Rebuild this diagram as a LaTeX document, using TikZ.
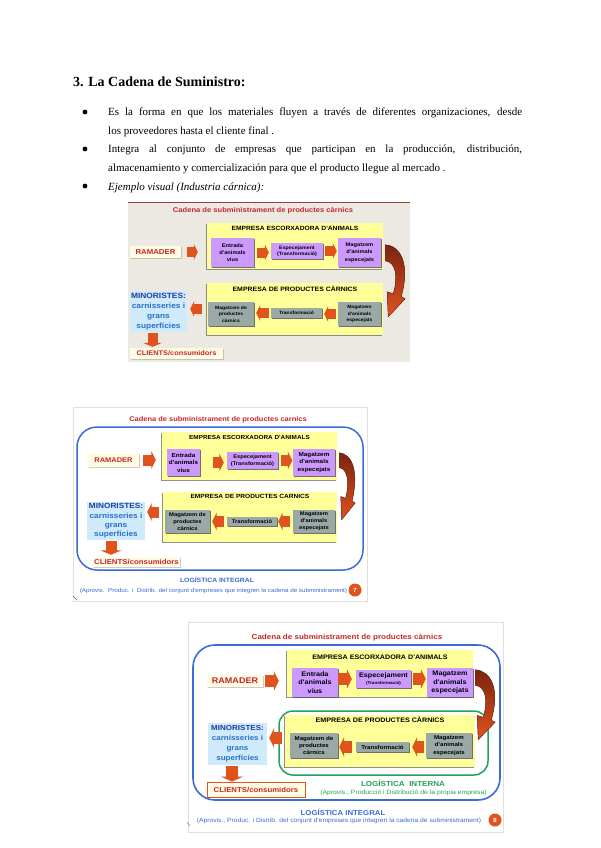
\documentclass[tikz,border=0pt]{standalone}
\usepackage{fontspec}
\setmainfont{Liberation Serif}
\newfontfamily\diagfont[FakeStretch=1.1]{Liberation Sans}
\usetikzlibrary{arrows.meta,shadows}

\definecolor{colGroc}{HTML}{FFFF99}
\definecolor{colLila}{HTML}{CC99FF}
\definecolor{colGris}{HTML}{9AA8A6}
\definecolor{colCel}{HTML}{CFEBFB}
\definecolor{colCrema}{HTML}{FFFCE3}
\definecolor{colFons}{HTML}{ECE9E3}
\definecolor{colVerm}{HTML}{C4262A}
\definecolor{colFletxa}{HTML}{E0531D}
\definecolor{colFosc}{HTML}{7A2410}
\definecolor{colBlau}{HTML}{3A6BD6}
\definecolor{colBlauF}{HTML}{1D3F9E}
\definecolor{colBlauC}{HTML}{2A6FC9}
\definecolor{colVerd}{HTML}{23A35A}

\newcommand{\fz}[2]{\fontsize{#1}{#2}\selectfont}

\tikzset{
  caixa/.style={rectangle, inner sep=0pt, align=center, font=\diagfont\bfseries},
  ombra/.style={drop shadow={shadow xshift=1pt, shadow yshift=-1pt, opacity=0.85, fill=black!65}},
  lletra/.style={font=\diagfont\bfseries\fz{5.2}{7.3}},
  lletrag/.style={font=\diagfont\bfseries\fz{4.6}{6.5}},
  groc/.style={caixa, fill=colGroc, drop shadow={shadow xshift=-0.8pt, shadow yshift=-0.8pt, opacity=0.8, fill=black!55}},
  lila/.style={caixa, ombra, fill=colLila, lletra},
  gris/.style={caixa, ombra, fill=colGris, lletrag},
  crema/.style={caixa, fill=colCrema, drop shadow={shadow xshift=1pt, shadow yshift=-1pt, opacity=0.5, fill=black!40}},
  celeste/.style={caixa, fill=colCel, text=colBlauC},
  titv/.style={font=\diagfont\bfseries, text=colVerm},
  fl/.style={draw=colFletxa, line width=10pt, -{Triangle[width=16pt,length=4pt]}},
  cos/.style={anchor=base west, text width=414pt, align=justify, font=\fz{11}{18.5}},
  corba/.pic={
    \filldraw[draw=colFosc, line width=0.4pt, top color=colFosc, bottom color=colFletxa]
      (0,0) .. controls (16,1) and (25,20) .. (16,52) -- (20,54) -- (3,72) -- (2,47) -- (8,49)
      .. controls (13,33) and (11,17) .. (0,16) -- cycle;
  }
}

\begin{document}
\begin{tikzpicture}[x=1pt, y=-1pt, every node/.style={inner sep=0pt}]
\useasboundingbox (0,0) rectangle (600,848);
\fill[white] (0,0) rectangle (600,848);

% === Title and bullets ===
\node[anchor=base west, font=\fz{14}{16}\bfseries] (capcal) at (73,87) {3. La Cadena de Suministro:};
\node[cos] (p1) at (108,116) {Es la forma en que los materiales fluyen a través de diferentes organizaciones, desde\linebreak los proveedores hasta el cliente final .};
\node[cos] (p2) at (108,153) {Integra al conjunto de empresas que participan en la producción, distribución,\linebreak almacenamiento y comercialización para que el producto llegue al mercado .};
\node[anchor=base west, font=\fz{11}{18.5}\itshape] (p3) at (108,190) {Ejemplo visual (Industria cárnica):};
\foreach \y in {112,149,186}
  \fill (85,\y) circle (2.4pt);

% === Picture 1 ===
\begin{scope}[lletra/.style={font=\diagfont\bfseries\fz{5.2}{7.3}}, lletrag/.style={font=\diagfont\bfseries\fz{4.6}{6.5}}]
\fill[colFons] (128,202) rectangle (410,362);
\draw[colFosc!85, line width=1.2pt] (128,202.6) -- (410,202.6);
\node[titv, font=\diagfont\bfseries\fz{6.9}{8}] (tit1) at (263,211) {Cadena de subministrament de productes càrnics};

\node[groc, minimum width=176pt, minimum height=46pt] (esc1) at (295,246) {};
\node[font=\diagfont\bfseries\fz{6.1}{7}] (tesc1) at ([yshift=-6pt]esc1.north) {EMPRESA ESCORXADORA D'ANIMALS};
\node[lila, minimum width=43pt, minimum height=29pt] (ent1) at (232.5,252.5) {Entrada\\d'animals\\vius};
\node[lila, minimum width=52pt, minimum height=16pt, font=\diagfont\bfseries\fz{4.8}{6}] (esp1) at (297,251) {Especejament\\(Transformació)};
\node[lila, minimum width=43pt, minimum height=29pt] (mag1) at (359.5,252.5) {Magatzem\\d'animals\\especejats};

\node[crema, minimum width=51pt, minimum height=12pt, text=colVerm, font=\diagfont\bfseries\fz{7.1}{8}] (ram1) at (155.5,252) {RAMADER};

\node[groc, minimum width=176pt, minimum height=52pt] (crn1) at (295,309) {};
\node[font=\diagfont\bfseries\fz{6.3}{7}] (tcrn1) at ([yshift=-6pt]crn1.north) {EMPRESA DE PRODUCTES CÀRNICS};
\node[gris, minimum width=46pt, minimum height=24pt] (mgp1) at (231,314) {Magatzem de\\productes\\càrnics};
\node[gris, minimum width=51pt, minimum height=10pt] (tra1) at (296.5,313) {Transformació};
\node[gris, minimum width=43pt, minimum height=24pt] (mga1) at (359.5,314) {Magatzem\\d'animals\\especejats};

\node[celeste, minimum width=57pt, minimum height=41pt, font=\diagfont\bfseries\fz{7.6}{10}] (min1) at (158.5,311.5) {\textcolor{colBlauF}{MINORISTES:}\\carnisseries i\\grans\\superfícies};
\node[crema, minimum width=93pt, minimum height=11pt, text=colVerm, font=\diagfont\bfseries\fz{6.7}{7}] (cli1) at (176.5,353.5) {CLIENTS/consumidors};

\draw[fl, shorten <=6pt, shorten >=9pt] (ram1.east) -- (ram1.east -| esc1.west);
\draw[fl, shorten <=3pt, shorten >=2pt] (ent1.east) -- (ent1.east -| esp1.west);
\draw[fl, shorten <=2pt, shorten >=1pt] (esp1.east) -- (esp1.east -| mag1.west);
\draw[fl, shorten <=2pt, shorten >=2pt] (mga1.west) -- (mga1.west -| tra1.east);
\draw[fl, shorten <=2pt, shorten >=2pt] (tra1.west) -- (tra1.west -| mgp1.east);
\draw[fl, shorten <=5pt, shorten >=3pt] (crn1.west) -- (crn1.west -| min1.east);
\draw[fl, -{Triangle[width=19pt,length=4pt]}, shorten <=1pt, shorten >=1pt] ([xshift=-6pt]min1.south) -- ([xshift=-24pt]cli1.north);
\pic at ([shift={(4,7)}]mag1.north east) {corba};
\end{scope}

% === Picture 2 ===
\begin{scope}[lletra/.style={font=\diagfont\bfseries\fz{5.8}{7.5}}, lletrag/.style={font=\diagfont\bfseries\fz{5.3}{6.8}},
  fl/.append style={line width=11pt, -{Triangle[width=18pt,length=4.5pt]}}]
\draw[black!12] (73,407) rectangle (367,601);
\draw[black!60] (73,596) -- (77,600);
\node[titv, font=\diagfont\bfseries\fz{6.8}{8}] (tit2) at (218,420) {Cadena de subministrament de productes carnics};
\draw[colBlau, line width=1.5pt, rounded corners=20pt] (77,427) rectangle (363,570);

\node[groc, minimum width=175pt, minimum height=48pt] (esc2) at (249.5,456) {};
\node[font=\diagfont\bfseries\fz{5.8}{7}] (tesc2) at ([yshift=-6pt]esc2.north) {EMPRESA ESCORXADORA D'ANIMALS};
\node[lila, minimum width=33pt, minimum height=27pt] (ent2) at (183.5,462.5) {Entrada\\d'animals\\vius};
\node[lila, minimum width=51pt, minimum height=17pt, font=\diagfont\bfseries\fz{5.2}{6.5}] (esp2) at (252.5,460.5) {Especejament\\(Transformació)};
\node[lila, minimum width=42pt, minimum height=27pt] (mag2) at (314,462.5) {Magatzem\\d'animals\\especejats};

\node[crema, minimum width=51pt, minimum height=14pt, text=colVerm, font=\diagfont\bfseries\fz{6.8}{8}] (ram2) at (113.5,460) {RAMADER};

\node[groc, minimum width=174pt, minimum height=50pt] (crn2) at (250,517) {};
\node[font=\diagfont\bfseries\fz{6}{7}] (tcrn2) at ([yshift=-5pt]crn2.north) {EMPRESA DE PRODUCTES CARNICS};
\node[gris, minimum width=45pt, minimum height=23pt] (mgp2) at (187.5,521.5) {Magatzem de\\productes\\càrnics};
\node[gris, minimum width=50pt, minimum height=9pt] (tra2) at (252,521.5) {Transformació};
\node[gris, minimum width=42pt, minimum height=23pt] (mga2) at (314,521.5) {Magatzem\\d'animals\\especejats};

\node[celeste, minimum width=58pt, minimum height=38pt, font=\diagfont\bfseries\fz{7.5}{9.3}] (min2) at (116,521) {\textcolor{colBlauF}{MINORISTES:}\\carnisseries i\\grans\\superfícies};
\node[crema, minimum width=87pt, minimum height=10pt, text=colVerm, font=\diagfont\bfseries\fz{7.1}{7}] (cli2) at (136.5,562) {CLIENTS/consumidors};

\draw[fl, shorten <=4pt, shorten >=6pt] (ram2.east) -- (ram2.east -| esc2.west);
\draw[fl, shorten <=13pt, shorten >=3pt] (ent2.east) -- (ent2.east -| esp2.west);
\draw[fl, shorten <=3pt, shorten >=0.5pt] (esp2.east) -- (esp2.east -| mag2.west);
\draw[fl, shorten <=3pt, shorten >=1pt] (mga2.west) -- (mga2.west -| tra2.east);
\draw[fl, shorten <=3pt, shorten >=2pt] (tra2.west) -- (tra2.west -| mgp2.east);
\draw[fl, shorten <=4pt, shorten >=2pt] ([yshift=5pt]crn2.west) -- ([yshift=5pt]crn2.west -| min2.east);
\draw[fl, -{Triangle[width=21pt,length=4.5pt]}, shorten <=1pt, shorten >=2pt] ([xshift=-5pt]min2.south) -- ([xshift=-25.5pt]cli2.north);
\pic[xscale=0.8, yscale=0.93] at ([shift={(4,4)}]mag2.north east) {corba};

\node[font=\diagfont\bfseries\fz{6.2}{7}, text=colBlau] (lig2) at (217,580) {LOGÍSTICA INTEGRAL};
\node[font=\diagfont\fz{5.7}{6}, text=colBlau] (aig2) at (213.5,591) {(Aprovis.\ \ Produc. i\ \ Distrib. del conjunt d'empreses que integren la cadena de subministrament)};
\node[circle, fill=colFletxa, minimum size=13pt, text=white, font=\diagfont\bfseries\fz{6}{6}] (num2) at (355,590) {7};
\end{scope}

% === Picture 3 ===
\begin{scope}[lletra/.style={font=\diagfont\bfseries\fz{6.6}{8.6}}, lletrag/.style={font=\diagfont\bfseries\fz{5.6}{7.4}},
  fl/.append style={line width=12pt, -{Triangle[width=20pt,length=5pt]}}]
\draw[black!12] (188,622) rectangle (503,832);
\draw[black!60] (187,822) -- (190,826);
\node[titv, font=\diagfont\bfseries\fz{7.3}{8}] (tit3) at (347,638) {Cadena de subministrament de productes càrnics};
\draw[colBlau, line width=1.6pt, rounded corners=22pt] (193,645) rectangle (500,800);
\draw[colVerd, line width=1.5pt, rounded corners=14pt] (279,711) rectangle (488,775);

\node[groc, minimum width=186pt, minimum height=47pt] (esc3) at (380,673.5) {};
\node[font=\diagfont\bfseries\fz{6.5}{7}] (tesc3) at ([yshift=-7pt]esc3.north) {EMPRESA ESCORXADORA D'ANIMALS};
\node[lila, minimum width=46pt, minimum height=29pt] (ent3) at (315,682.5) {Entrada\\d'animals\\vius};
\node[lila, minimum width=55pt, minimum height=18pt, font=\diagfont\bfseries\fz{6.6}{6.5}] (esp3) at (383.5,679) {Especejament\\{\fz{4.2}{5}(Transformació)}};
\node[lila, minimum width=46pt, minimum height=29pt] (mag3) at (450,682.5) {Magatzem\\d'animals\\especejats};

\node[crema, minimum width=56pt, minimum height=12pt, text=colVerm, font=\diagfont\bfseries\fz{8.2}{8}] (ram3) at (235,681) {RAMADER};

\node[groc, minimum width=190pt, minimum height=52pt] (crn3) at (380,741) {};
\node[font=\diagfont\bfseries\fz{6.5}{7}] (tcrn3) at ([yshift=-5pt]crn3.north) {EMPRESA DE PRODUCTES CÀRNICS};
\node[gris, minimum width=48pt, minimum height=25pt] (mgp3) at (314,745.5) {Magatzem de\\productes\\càrnics};
\node[gris, minimum width=53pt, minimum height=10pt] (tra3) at (382.5,747) {Transformació};
\node[gris, minimum width=46pt, minimum height=25pt] (mga3) at (449,745.5) {Magatzem\\d'animals\\especejats};

\node[celeste, minimum width=59pt, minimum height=42pt, font=\diagfont\bfseries\fz{7.3}{10}] (min3) at (237.5,744) {\textcolor{colBlauF}{MINORISTES:}\\carnisseries i\\grans\\superfícies};
\node[crema, draw=colFletxa, line width=0.8pt, minimum width=98pt, minimum height=15pt, text=colVerm, font=\diagfont\bfseries\fz{7.1}{7}] (cli3) at (256,789.5) {CLIENTS/consumidors};

\draw[fl, shorten <=2pt, shorten >=8pt] (ram3.east) -- (ram3.east -| esc3.west);
\draw[fl, shorten >=4pt] (esp3.west -| ent3.east) -- (esp3.west);
\draw[fl, shorten <=2pt, shorten >=1pt] (esp3.east) -- (esp3.east -| mag3.west);
\draw[fl, shorten <=2pt, shorten >=3pt] (tra3.east -| mga3.west) -- (tra3.east);
\draw[fl, shorten <=4pt, shorten >=1pt] (tra3.west) -- (tra3.west -| mgp3.east);
\draw[fl, shorten <=3pt, shorten >=2pt] ([yshift=3pt]crn3.west) -- ([yshift=3pt]crn3.west -| min3.east);
\draw[fl, -{Triangle[width=22pt,length=5pt]}, shorten <=1pt] ([xshift=-5.5pt]min3.south) -- ([xshift=-24pt]cli3.north);
\pic[yscale=0.97] at ([shift={(2,2)}]mag3.north east) {corba};

\node[font=\diagfont\bfseries\fz{7.3}{8}, text=colVerd] (lin3) at (403,783) {LOGÍSTICA\ \ INTERNA};
\node[font=\diagfont\fz{6.2}{7}, text=colVerd] (ain3) at (403.5,793) {(Aprovis., Producció i Distribució de la propia empresa)};
\node[font=\diagfont\bfseries\fz{7.1}{8}, text=colBlau] (lig3) at (343,812) {LOGÍSTICA INTEGRAL};
\node[font=\diagfont\fz{6.1}{7}, text=colBlau] (aig3) at (339,820.5) {(Aprovis., Produc. i Distrib. del conjunt d'empreses que integren la cadena de subministrament)};
\node[circle, fill=colFletxa, minimum size=13pt, text=white, font=\diagfont\bfseries\fz{6}{6}] (num3) at (495,820) {8};
\end{scope}
\end{tikzpicture}
\end{document}
